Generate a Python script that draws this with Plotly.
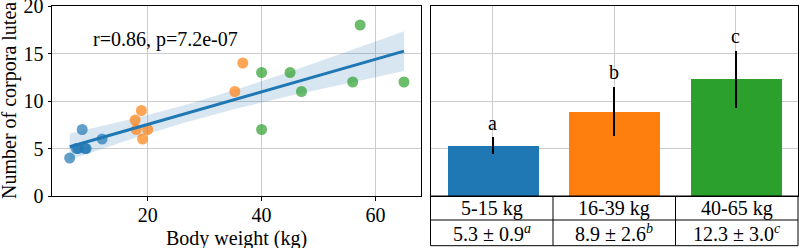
import numpy as np
import plotly.graph_objects as go

# ---- data ----
blue_x = [6.3, 7.5, 7.8, 8.5, 9.0, 9.2, 12.0]
blue_y = [4, 5, 5, 7, 5, 5, 6]
orange_x = [17.8, 18.9, 18.0, 19.1, 20.0, 35.3, 36.7]
orange_y = [8, 9, 7, 6, 7, 11, 14]
green_x = [40.0, 40.0, 45.0, 47.0, 56.0, 57.3, 65.0]
green_y = [13, 7, 13, 11, 12, 18, 12]

groups = ["5-15 kg", "16-39 kg", "40-65 kg"]
letters = ["a", "b", "c"]
colors = ["#1f77b4", "#ff7f0e", "#2ca02c"]
stat_label = "r=0.86, p=7.2e-07"
x_title = "Body weight (kg)"
y_title = "Number of corpora lutea"
x_ticks = [20, 40, 60]
y_ticks = [0, 5, 10, 15, 20]

FONT = "Liberation Serif"
FS = 20

xs_groups = [blue_x, orange_x, green_x]
ys_groups = [blue_y, orange_y, green_y]
means = [float(np.mean(y)) for y in ys_groups]
sds = [float(np.std(y)) for y in ys_groups]

all_x = np.array(blue_x + orange_x + green_x, dtype=float)
all_y = np.array(blue_y + orange_y + green_y, dtype=float)
n = len(all_x)
slope, intercept = np.polyfit(all_x, all_y, 1)
grid = np.linspace(all_x.min(), all_x.max(), 100)
pred = slope * grid + intercept
resid = all_y - (slope * all_x + intercept)
s = np.sqrt(np.sum(resid ** 2) / (n - 2))
sxx = np.sum((all_x - all_x.mean()) ** 2)
tcrit = 2.093
half = tcrit * s * np.sqrt(1.0 / n + (grid - all_x.mean()) ** 2 / sxx)
upper = pred + half
lower = pred - half

fig = go.Figure()

# CI band
fig.add_trace(go.Scatter(
    x=np.concatenate([grid, grid[::-1]]), y=np.concatenate([upper, lower[::-1]]),
    fill="toself", fillcolor="rgba(31,119,180,0.18)", line=dict(width=0),
    mode="lines", hoverinfo="skip", showlegend=False, xaxis="x", yaxis="y"))

for gx, gy, c in zip(xs_groups, ys_groups, colors):
    fig.add_trace(go.Scatter(
        x=gx, y=gy, mode="markers",
        marker=dict(color=c, size=11, opacity=0.7, line=dict(width=0)),
        showlegend=False, xaxis="x", yaxis="y"))

fig.add_trace(go.Scatter(
    x=grid, y=pred, mode="lines", line=dict(color="#1f77b4", width=3),
    showlegend=False, xaxis="x", yaxis="y"))

# bars
fig.add_trace(go.Bar(
    x=list(range(len(groups))), y=means, width=0.75,
    marker=dict(color=colors, line=dict(width=0)),
    error_y=dict(type="data", array=sds, color="black", thickness=2.2, width=0),
    showlegend=False, xaxis="x2", yaxis="y2"))

dom_y = [52 / 248, 242 / 248]
axis_common = dict(showline=True, mirror=True, linecolor="black", linewidth=1,
                   showgrid=True, gridcolor="#cccccc", gridwidth=1, zeroline=False,
                   automargin=False, ticklabeloverflow="allow")
yr = [-1e-6, 20 + 1e-6]

fig.update_layout(
    width=800, height=248, autosize=False,
    margin=dict(l=0, r=0, t=0, b=0, pad=0, autoexpand=False),
    paper_bgcolor="white", plot_bgcolor="white",
    font=dict(family=FONT, size=FS, color="black"),
    xaxis=dict(domain=[52 / 800, 420.5 / 800], range=[3.2, 67.9],
               tickvals=x_ticks, ticks="outside", ticklen=3.5, tickcolor="black",
               ticklabelstandoff=-3, anchor="y", **axis_common),
    yaxis=dict(domain=dom_y, range=yr, tickvals=y_ticks,
               ticks="outside", ticklen=3.5, tickcolor="black", anchor="x", **axis_common),
    xaxis2=dict(domain=[430.5 / 800, 798 / 800], range=[-0.5125, 2.5125],
                tickvals=[0, 1, 2], showticklabels=False, ticks="", anchor="y2",
                **axis_common),
    yaxis2=dict(domain=dom_y, range=yr, tickvals=y_ticks,
                showticklabels=False, ticks="", anchor="x2", **axis_common),
    bargap=0,
)

ann = []
ann.append(dict(text=stat_label, xref="x domain", yref="y domain", x=0.105, y=0.825,
                xanchor="left", yanchor="middle", showarrow=False,
                font=dict(family=FONT, size=FS)))
ann.append(dict(text=x_title, xref="paper", yref="paper", x=236 / 800, y=10 / 248,
                xanchor="center", yanchor="middle", showarrow=False,
                font=dict(family=FONT, size=FS)))
ann.append(dict(text=y_title, xref="paper", yref="paper", x=9 / 800, y=147 / 248,
                xanchor="center", yanchor="middle", textangle=-90, showarrow=False,
                font=dict(family=FONT, size=FS)))
for i, (m, sd, l) in enumerate(zip(means, sds, letters)):
    ann.append(dict(text=l, xref="x2", yref="y2", x=i, y=m + sd + 0.2,
                    xanchor="center", yanchor="bottom", showarrow=False,
                    font=dict(family=FONT, size=FS)))

# table
row1 = -24 / 190
row2 = -49.7 / 190
shapes = []
lc = dict(color="black", width=1)
shapes.append(dict(type="rect", xref="x2 domain", yref="y2 domain", x0=0, x1=1,
                   y0=row2, y1=0, line=lc))
shapes.append(dict(type="line", xref="x2 domain", yref="y2 domain", x0=0, x1=1,
                   y0=row1, y1=row1, line=lc))
for k in range(1, len(groups)):
    shapes.append(dict(type="line", xref="x2 domain", yref="y2 domain",
                       x0=k / len(groups), x1=k / len(groups), y0=row2, y1=0, line=lc))
for i, (g, m, sd, l) in enumerate(zip(groups, means, sds, letters)):
    cx = (i + 0.5) / len(groups)
    ann.append(dict(text=g, xref="x2 domain", yref="y2 domain", x=cx, y=row1 / 2,
                    xanchor="center", yanchor="middle", showarrow=False,
                    font=dict(family=FONT, size=FS)))
    ann.append(dict(text=f"{m:.1f} ± {sd:.1f}<sup><i>{l}</i></sup>", xref="x2 domain",
                    yref="y2 domain", x=cx, y=(row1 + row2) / 2,
                    xanchor="center", yanchor="middle", showarrow=False,
                    font=dict(family=FONT, size=FS)))

fig.update_layout(annotations=ann, shapes=shapes)
fig.write_html("out.html")
